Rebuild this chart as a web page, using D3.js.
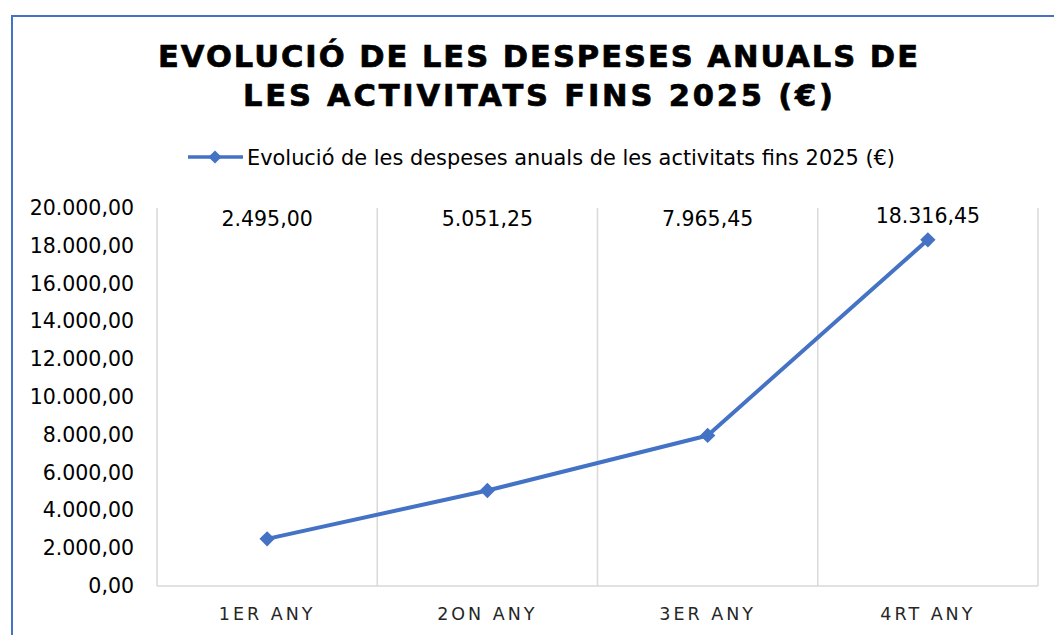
<!DOCTYPE html>
<html>
<head>
<meta charset="utf-8">
<script src="https://cdn.jsdelivr.net/npm/d3@7"></script>
<style>
  body { margin: 0; background: #fff; }
  text { font-family: "DejaVu Sans", Verdana, sans-serif; }
</style>
</head>
<body>
<div id="chart"></div>
<script>
// chart data
const categories = ["1ER ANY", "2ON ANY", "3ER ANY", "4RT ANY"];
const values = [2495.00, 5051.25, 7965.45, 18316.45];
const yTicks = [0, 2000, 4000, 6000, 8000, 10000, 12000, 14000, 16000, 18000, 20000];
const titleLines = ["EVOLUCIÓ DE LES DESPESES ANUALS DE", "LES ACTIVITATS FINS 2025 (€)"];
const seriesName = "Evolució de les despeses anuals de les activitats fins 2025 (€)";

const W = 1054, H = 635;
const margin = { top: 208, right: 16, bottom: 49, left: 157 };
const width = W - margin.left - margin.right;
const height = H - margin.top - margin.bottom;
const blue = "#4472C4";
const grid = "#d9d9d9";

// es/ca number format: 18.316,45
const fmt = d3.formatLocale({ decimal: ",", thousands: ".", grouping: [3], currency: ["", "€"] }).format(",.2f");

const svg = d3.select("#chart").append("svg")
    .attr("width", W)
    .attr("height", H);

// outer frame (runs off the right / bottom edge)
svg.append("rect")
    .attr("x", 12).attr("y", 16)
    .attr("width", W + 10).attr("height", H + 10)
    .attr("fill", "none")
    .attr("stroke", blue)
    .attr("stroke-width", 2);

// title
const titleWidths = [760, 590];
svg.selectAll(".title")
    .data(titleLines)
    .join("text")
    .attr("class", "title")
    .attr("x", 538)
    .attr("y", (d, i) => 67 + i * 39)
    .attr("text-anchor", "middle")
    .attr("textLength", (d, i) => titleWidths[i])
    .attr("lengthAdjust", "spacing")
    .style("font-size", "30.5px")
    .style("font-weight", "bold")
    .attr("fill", "#000")
    .attr("stroke", "#000")
    .attr("stroke-width", 0.7)
    .text(d => d);

// legend
const legend = svg.append("g").attr("transform", "translate(188,157)");
legend.append("line")
    .attr("x1", 0).attr("x2", 55)
    .attr("stroke", blue).attr("stroke-width", 3.5);
legend.append("path")
    .attr("d", d3.symbol(d3.symbolDiamond2, 110)())
    .attr("transform", "translate(27,0)")
    .attr("fill", blue);
legend.append("text")
    .attr("x", 59).attr("y", 8)
    .attr("textLength", 648)
    .attr("lengthAdjust", "spacingAndGlyphs")
    .style("font-size", "20.5px")
    .attr("fill", "#000")
    .text(seriesName);

const g = svg.append("g")
    .attr("transform", `translate(${margin.left},${margin.top})`);

const x = d3.scaleBand().domain(categories).range([0, width]);
const y = d3.scaleLinear().domain([0, 20000]).range([height, 0]);

// vertical gridlines between categories
const gridX = categories.map(c => x(c)).concat([width]);
g.selectAll(".vgrid")
    .data(gridX)
    .join("line")
    .attr("class", "vgrid")
    .attr("x1", d => d).attr("x2", d => d)
    .attr("y1", 0).attr("y2", height)
    .attr("stroke", grid).attr("stroke-width", 1.5);

// bottom axis line
g.append("line")
    .attr("x1", 0).attr("x2", width)
    .attr("y1", height).attr("y2", height)
    .attr("stroke", grid).attr("stroke-width", 1.5);

// y axis labels
const yAxis = d3.axisLeft(y).tickValues(yTicks).tickFormat(fmt).tickSize(0).tickPadding(23);
g.append("g").call(yAxis)
    .call(a => a.select(".domain").remove())
    .selectAll("text")
    .style("font-family", "'DejaVu Sans', Verdana, sans-serif")
    .style("font-size", "20.5px")
    .attr("fill", "#000");

// x axis labels
g.selectAll(".xlab")
    .data(categories)
    .join("text")
    .attr("class", "xlab")
    .attr("x", d => x(d) + x.bandwidth() / 2)
    .attr("y", height + 34)
    .attr("text-anchor", "middle")
    .style("font-size", "17.5px")
    .style("letter-spacing", "3px")
    .attr("fill", "#262626")
    .text(d => d);

// line + markers
const pts = categories.map((c, i) => ({ cat: c, v: values[i] }));
const line = d3.line()
    .x(d => x(d.cat) + x.bandwidth() / 2)
    .y(d => y(d.v));

g.append("path")
    .datum(pts)
    .attr("d", line)
    .attr("fill", "none")
    .attr("stroke", blue)
    .attr("stroke-width", 4)
    .attr("stroke-linejoin", "round");

g.selectAll(".marker")
    .data(pts)
    .join("path")
    .attr("class", "marker")
    .attr("d", d3.symbol(d3.symbolDiamond2, 150)())
    .attr("transform", d => `translate(${x(d.cat) + x.bandwidth() / 2},${y(d.v)})`)
    .attr("fill", blue);

// data labels (pushed to the top of the plot)
g.selectAll(".dlab")
    .data(pts)
    .join("text")
    .attr("class", "dlab")
    .attr("x", d => x(d.cat) + x.bandwidth() / 2)
    .attr("y", d => Math.min(y(d.v) - 17, 18))
    .attr("text-anchor", "middle")
    .style("font-size", "20.5px")
    .attr("fill", "#000")
    .text(d => fmt(d.v));
</script>
</body>
</html>
